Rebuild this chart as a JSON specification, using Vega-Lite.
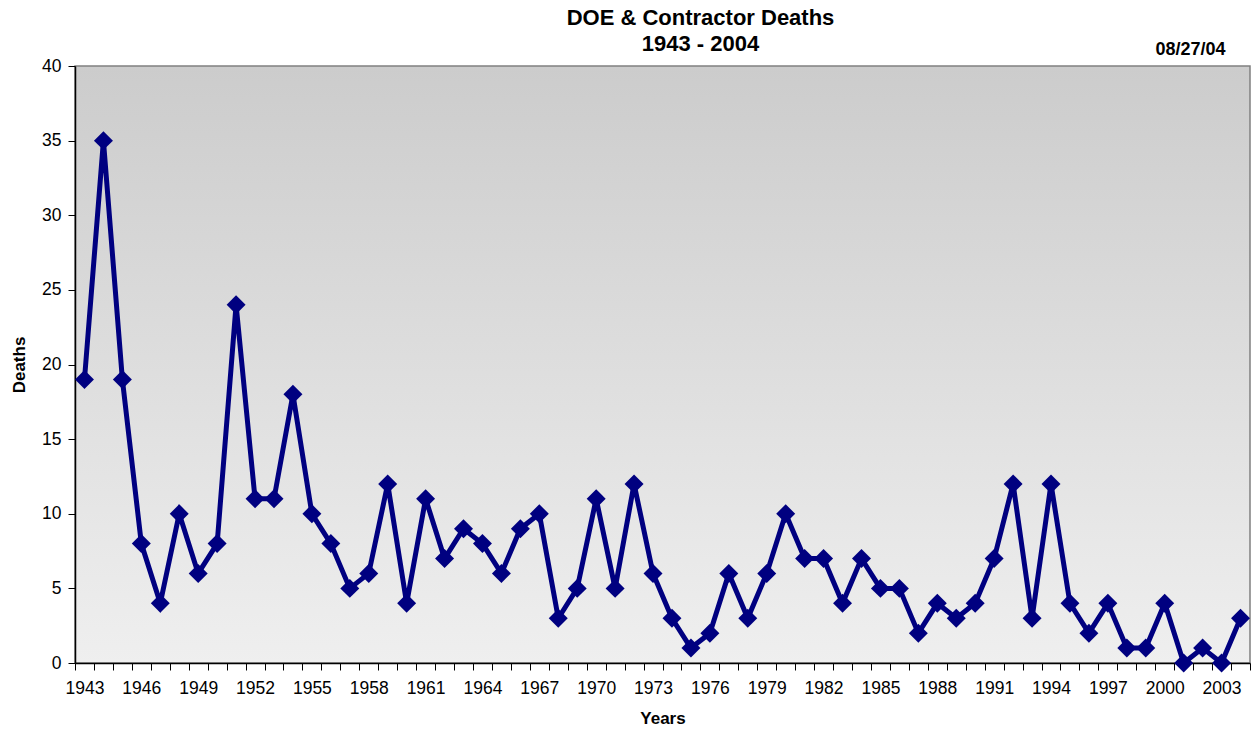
{
  "$schema": "https://vega.github.io/schema/vega-lite/v6.json",
  "autosize": {"type": "none"},
  "width": 1175,
  "height": 597,
  "padding": {"left": 75, "top": 66, "right": 1, "bottom": 67},
  "background": "white",
  "config": {
    "font": "Liberation Sans",
    "view": {
      "stroke": "#808080",
      "strokeWidth": 1.5,
      "fill": {"gradient": "linear", "x1": 0, "y1": 0, "x2": 0, "y2": 1, "stops": [{"offset": 0, "color": "#cccccc"}, {"offset": 1, "color": "#efefef"}]}
    }
  },
  "title": {
    "text": ["DOE & Contractor Deaths", "1943 - 2004"],
    "anchor": "middle",
    "dx": 38,
    "offset": -15,
    "fontSize": 22,
    "fontWeight": "bold",
    "lineHeight": 26,
    "color": "black"
  },
  "data": {
    "values": [
      {"year": 1943, "deaths": 19}, {"year": 1944, "deaths": 35}, {"year": 1945, "deaths": 19},
      {"year": 1946, "deaths": 8}, {"year": 1947, "deaths": 4}, {"year": 1948, "deaths": 10},
      {"year": 1949, "deaths": 6}, {"year": 1950, "deaths": 8}, {"year": 1951, "deaths": 24},
      {"year": 1952, "deaths": 11}, {"year": 1953, "deaths": 11}, {"year": 1954, "deaths": 18},
      {"year": 1955, "deaths": 10}, {"year": 1956, "deaths": 8}, {"year": 1957, "deaths": 5},
      {"year": 1958, "deaths": 6}, {"year": 1959, "deaths": 12}, {"year": 1960, "deaths": 4},
      {"year": 1961, "deaths": 11}, {"year": 1962, "deaths": 7}, {"year": 1963, "deaths": 9},
      {"year": 1964, "deaths": 8}, {"year": 1965, "deaths": 6}, {"year": 1966, "deaths": 9},
      {"year": 1967, "deaths": 10}, {"year": 1968, "deaths": 3}, {"year": 1969, "deaths": 5},
      {"year": 1970, "deaths": 11}, {"year": 1971, "deaths": 5}, {"year": 1972, "deaths": 12},
      {"year": 1973, "deaths": 6}, {"year": 1974, "deaths": 3}, {"year": 1975, "deaths": 1},
      {"year": 1976, "deaths": 2}, {"year": 1977, "deaths": 6}, {"year": 1978, "deaths": 3},
      {"year": 1979, "deaths": 6}, {"year": 1980, "deaths": 10}, {"year": 1981, "deaths": 7},
      {"year": 1982, "deaths": 7}, {"year": 1983, "deaths": 4}, {"year": 1984, "deaths": 7},
      {"year": 1985, "deaths": 5}, {"year": 1986, "deaths": 5}, {"year": 1987, "deaths": 2},
      {"year": 1988, "deaths": 4}, {"year": 1989, "deaths": 3}, {"year": 1990, "deaths": 4},
      {"year": 1991, "deaths": 7}, {"year": 1992, "deaths": 12}, {"year": 1993, "deaths": 3},
      {"year": 1994, "deaths": 12}, {"year": 1995, "deaths": 4}, {"year": 1996, "deaths": 2},
      {"year": 1997, "deaths": 4}, {"year": 1998, "deaths": 1}, {"year": 1999, "deaths": 1},
      {"year": 2000, "deaths": 4}, {"year": 2001, "deaths": 0}, {"year": 2002, "deaths": 1},
      {"year": 2003, "deaths": 0}, {"year": 2004, "deaths": 3}
    ]
  },
  "encoding": {
    "x": {
      "field": "year",
      "type": "ordinal",
      "scale": {"type": "band", "paddingInner": 0, "paddingOuter": 0},
      "axis": {
        "title": "Years",
        "titleFontSize": 17,
        "titleFontWeight": "bold",
        "titlePadding": 14,
        "titleColor": "black",
        "labelAngle": 0,
        "labelFontSize": 17.5,
        "labelColor": "black",
        "labelPadding": 9,
        "labelExpr": "(datum.value - 1943) % 3 == 0 ? datum.label : ''",
        "labelOverlap": false,
        "tickBand": "extent",
        "tickSize": 7,
        "tickColor": "black",
        "domainColor": "black",
        "domainWidth": 1.5,
        "grid": false
      }
    },
    "y": {
      "field": "deaths",
      "type": "quantitative",
      "scale": {"domain": [0, 40], "nice": false},
      "axis": {
        "title": "Deaths",
        "titleFontSize": 17,
        "titleFontWeight": "bold",
        "titleColor": "black",
        "titlePadding": 13,
        "values": [0, 5, 10, 15, 20, 25, 30, 35, 40],
        "labelFontSize": 17.5,
        "labelColor": "black",
        "labelPadding": 7,
        "tickSize": 7,
        "tickColor": "black",
        "domainColor": "black",
        "domainWidth": 1.5,
        "grid": false
      }
    }
  },
  "layer": [
    {
      "mark": {"type": "line", "color": "#000080", "strokeWidth": 5}
    },
    {
      "mark": {"type": "point", "shape": "diamond", "filled": true, "opacity": 1, "color": "#000080", "size": 360}
    },
    {
      "transform": [{"filter": "datum.year == 2004"}],
      "mark": {"type": "text", "align": "right", "baseline": "alphabetic", "fontSize": 18, "fontWeight": "bold", "color": "black", "dx": -15, "dy": -11, "clip": false},
      "encoding": {
        "y": {"datum": 40},
        "text": {"value": "08/27/04"}
      }
    }
  ]
}
